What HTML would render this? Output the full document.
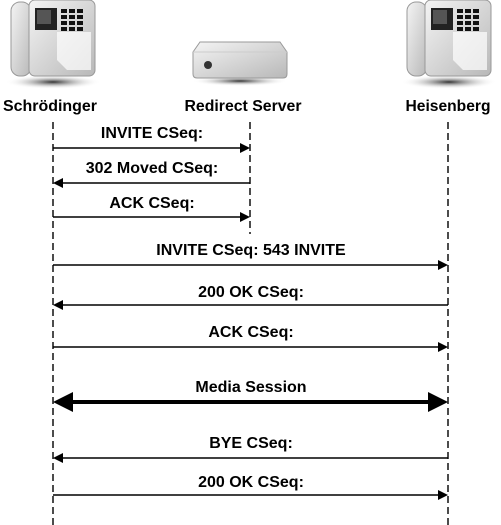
<!DOCTYPE html>
<html><head><meta charset="utf-8"><style>
html,body{margin:0;padding:0;background:#fff;}
svg{display:block;}
text{font-family:"Liberation Sans Narrow","Liberation Sans",sans-serif;font-weight:bold;font-size:16px;fill:#000;text-anchor:middle;}
</style></head><body>
<svg width="501" height="525" viewBox="0 0 501 525" xmlns="http://www.w3.org/2000/svg">
<defs>
<radialGradient id="sh" cx="50%" cy="50%" r="50%"><stop offset="0" stop-color="#333"/><stop offset="1" stop-color="#fff" stop-opacity="0"/></radialGradient>
<linearGradient id="bd" x1="0" y1="0" x2="1" y2="1"><stop offset="0" stop-color="#f4f4f4"/><stop offset="1" stop-color="#b8b8b8"/></linearGradient>
<g id="phone">
<ellipse cx="42" cy="82" rx="48" ry="7" fill="url(#sh)"/>
<rect x="0" y="2" width="20" height="74" rx="9" fill="url(#bd)" stroke="#999"/>
<rect x="18" y="0" width="66" height="76" rx="6" fill="url(#bd)" stroke="#999"/>
<rect x="24" y="8" width="22" height="22" fill="#222"/>
<rect x="26" y="10" width="14" height="14" fill="#555"/>
<g fill="#111">
<rect x="50" y="9" width="6" height="4"/><rect x="58" y="9" width="6" height="4"/><rect x="66" y="9" width="6" height="4"/>
<rect x="50" y="15" width="6" height="4"/><rect x="58" y="15" width="6" height="4"/><rect x="66" y="15" width="6" height="4"/>
<rect x="50" y="21" width="6" height="4"/><rect x="58" y="21" width="6" height="4"/><rect x="66" y="21" width="6" height="4"/>
<rect x="50" y="27" width="6" height="4"/><rect x="58" y="27" width="6" height="4"/><rect x="66" y="27" width="6" height="4"/>
</g>
<path d="M46 32 L46 60 L56 70 L80 70 L80 32 Z" fill="#fff" opacity="0.7"/>
</g>
</defs>
<use href="#phone" x="11" y="0"/>
<use href="#phone" x="407" y="0"/>
<ellipse cx="240" cy="81" rx="48" ry="5" fill="url(#sh)"/>
<path d="M200 42 L280 42 L287 52 L287 74 Q287 78 283 78 L197 78 Q193 78 193 74 L193 52 Z" fill="url(#bd)" stroke="#999"/>
<path d="M193 52 L287 52" stroke="#ccc"/>
<circle cx="208" cy="65" r="4" fill="#333"/>
<text x="50" y="111" textLength="94" lengthAdjust="spacingAndGlyphs">Schrödinger</text>
<text x="243" y="111" textLength="117" lengthAdjust="spacingAndGlyphs">Redirect Server</text>
<text x="448" y="111" textLength="85" lengthAdjust="spacingAndGlyphs">Heisenberg</text>
<g stroke="#000" stroke-width="1.4" stroke-dasharray="7,4" fill="none">
<line x1="53" y1="122" x2="53" y2="525"/>
<line x1="250" y1="122" x2="250" y2="234"/>
<line x1="448" y1="122" x2="448" y2="525"/>
</g>
<g stroke="#000" stroke-width="1.6">
<line x1="53" y1="148" x2="242" y2="148"/>
<line x1="62" y1="183" x2="250" y2="183"/>
<line x1="53" y1="217" x2="242" y2="217"/>
<line x1="53" y1="265" x2="440" y2="265"/>
<line x1="62" y1="305" x2="448" y2="305"/>
<line x1="53" y1="347" x2="440" y2="347"/>
<line x1="70" y1="402" x2="430" y2="402" stroke-width="4"/>
<line x1="62" y1="458" x2="448" y2="458"/>
<line x1="53" y1="495" x2="440" y2="495"/>
</g>
<g fill="#000">
<path d="M250 148 L240 143 L240 153 Z"/>
<path d="M53 183 L63 178 L63 188 Z"/>
<path d="M250 217 L240 212 L240 222 Z"/>
<path d="M448 265 L438 260 L438 270 Z"/>
<path d="M53 305 L63 300 L63 310 Z"/>
<path d="M448 347 L438 342 L438 352 Z"/>
<path d="M53 402 L73 392 L73 412 Z"/>
<path d="M448 402 L428 392 L428 412 Z"/>
<path d="M53 458 L63 453 L63 463 Z"/>
<path d="M448 495 L438 490 L438 500 Z"/>
</g>
<text x="152" y="138">INVITE CSeq:</text>
<text x="152" y="173">302 Moved CSeq:</text>
<text x="152" y="208">ACK CSeq:</text>
<text x="251" y="255">INVITE CSeq: 543 INVITE</text>
<text x="251" y="297">200 OK CSeq:</text>
<text x="251" y="337">ACK CSeq:</text>
<text x="251" y="392">Media Session</text>
<text x="251" y="448">BYE CSeq:</text>
<text x="251" y="487">200 OK CSeq:</text>
</svg>
</body></html>
